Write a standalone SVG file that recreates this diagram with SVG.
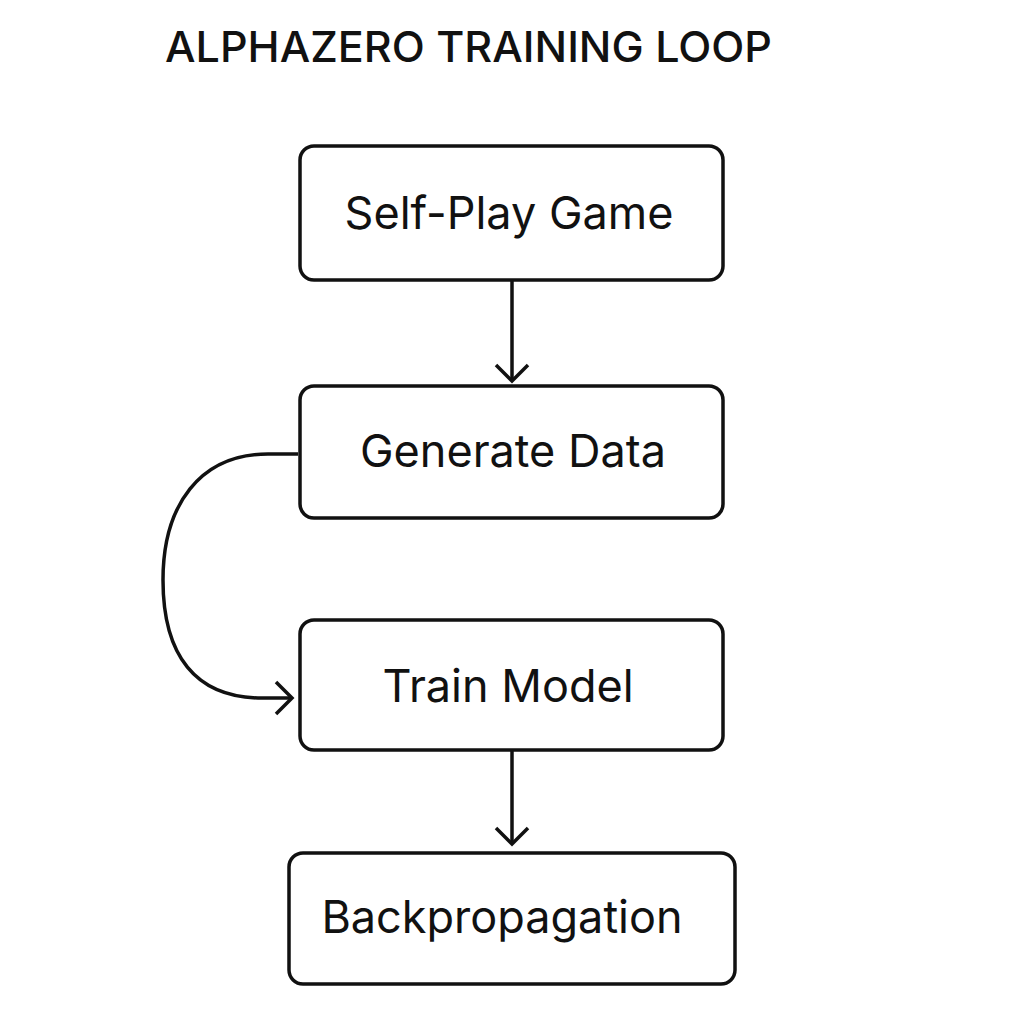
<svg xmlns="http://www.w3.org/2000/svg" width="1024" height="1024" viewBox="0 0 1024 1024">
<style>
.box{fill:#fff;stroke:#111;stroke-width:3.5}
.lbl{font-family:Inter,"Noto Sans",sans-serif;font-size:45px;fill:#111;text-anchor:middle}
.ttl{font-family:Inter,"Noto Sans",sans-serif;font-size:43px;font-weight:500;fill:#111}
.con{fill:none;stroke:#111;stroke-width:3.5}
</style>
<defs>
<marker id="ah" viewBox="0 0 36 36" refX="18" refY="18" markerWidth="36" markerHeight="36" markerUnits="userSpaceOnUse" orient="auto">
<path d="M2,2 L18,18 L2,34" fill="none" stroke="#111" stroke-width="3.5"/>
</marker>
</defs>
<rect width="1024" height="1024" fill="#fff"/>
<text class="ttl" x="165" y="62" textLength="607" lengthAdjust="spacingAndGlyphs">ALPHAZERO TRAINING LOOP</text>
<g id="connectors">
<path class="con" d="M512,281 L512,381" marker-end="url(#ah)"/>
<path class="con" d="M512,751 L512,844" marker-end="url(#ah)"/>
<path class="con" d="M298,454 L268,454 C200,454 163,505 163,580 C163,655 195,698 262,698 L292,698" marker-end="url(#ah)"/>
</g>
<g id="node-selfplay">
<rect class="box" x="300" y="146" width="423" height="134" rx="14"/>
<text class="lbl" x="509" y="229">Self-Play Game</text>
</g>
<g id="node-generate">
<rect class="box" x="300" y="386" width="423" height="132" rx="14"/>
<text class="lbl" x="513" y="467">Generate Data</text>
</g>
<g id="node-train">
<rect class="box" x="300" y="620" width="423" height="130" rx="14"/>
<text class="lbl" x="508" y="702">Train Model</text>
</g>
<g id="node-backprop">
<rect class="box" x="289" y="853" width="446" height="131" rx="14"/>
<text class="lbl" x="502" y="933">Backpropagation</text>
</g>
</svg>
